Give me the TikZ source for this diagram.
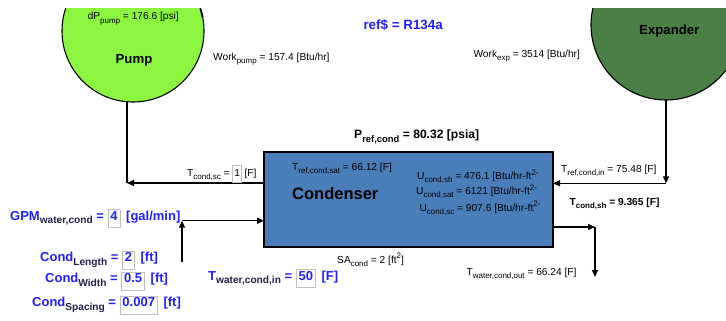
\documentclass[tikz,border=0pt]{standalone}
\usepackage{fontspec}
\setmainfont{Liberation Sans}
\usetikzlibrary{arrows.meta}
\definecolor{pumpgreen}{HTML}{8CF53F}
\definecolor{expgreen}{HTML}{4A7F46}
\definecolor{condblue}{HTML}{4A7EBB}
\definecolor{eesblue}{HTML}{1F1FFF}
\definecolor{subdark}{HTML}{20204A}
% sub- and superscripts in the style of the solver's diagram window
\newcommand\dn[1]{\raisebox{-0.3em}{\scalebox{0.78}{#1}}}
\newcommand\up[1]{\raisebox{0.42em}{\scalebox{0.78}{#1}}}
\newcommand\insub[1]{\dn{\textcolor{subdark}{#1}}}
% boxed input values
\newcommand\valbox[1]{{\setlength\fboxsep{1.2pt}\setlength\fboxrule{0.6pt}%
  \fcolorbox{black!25}{white}{\hspace{1pt}\rule[-6pt]{0pt}{14.8pt}#1\hspace{1pt}}}}
\newcommand\smallval[1]{{\setlength\fboxsep{1.2pt}\setlength\fboxrule{0.6pt}%
  \fcolorbox{black!25}{white}{\rule[-4.5pt]{0pt}{14pt}#1}}}
\begin{document}
\begin{tikzpicture}[x=1pt,y=-1pt,
  lbl/.style={inner sep=0pt, anchor=base west, font=\fontsize{10.2}{12}\selectfont},
  lblb/.style={inner sep=0pt, anchor=base west, font=\fontsize{10.2}{12}\selectfont\bfseries},
  inp/.style={inner sep=0pt, anchor=base west, text=eesblue, font=\fontsize{13}{15}\selectfont\bfseries},
  title/.style={inner sep=0pt, anchor=base, font=\fontsize{13.2}{15}\selectfont\bfseries},
  unit/.style={circle, draw, line width=1.1pt, inner sep=0pt, outer sep=0pt},
  wire/.style={line width=1.3pt},
  flow/.style={line width=1.3pt, -{Triangle[length=7pt,width=6pt]}}]
\useasboundingbox (0,0) rectangle (726,321);

% pump and expander, cut off by the top and right edges
\begin{scope}
  \clip (0,9) rectangle (726,321);
  \node[unit, fill=pumpgreen, minimum size=142pt] (pump) at (133,31) {};
  \node[unit, fill=expgreen, minimum size=150pt] (exp) at (666,25) {};
  \draw[line width=1.8pt] (200.5,9) arc[start angle=18, end angle=11, radius=71pt];
\end{scope}

% condenser
\node[draw, fill=condblue, line width=1.8pt, minimum width=289pt, minimum height=95pt,
      inner sep=0pt, outer sep=0pt, anchor=north west] (cond) at (264,152) {};

% junction points of the piping
\coordinate (sc) at (127,183);
\coordinate (sh) at (666,183.3);
\coordinate (wiA) at (182,262);
\coordinate (wiB) at (182,220.7);
\coordinate (woA) at (595,227);
\coordinate (woB) at (595,277);

% refrigerant loop
\draw[flow] (cond.west |- sc) -- (sc);
\draw[wire] (sc) -- (sc |- pump.south);
\draw[flow] (exp.south) -- (sh);
\draw[flow] (sh) -- (cond.east |- sh);

% water side
\draw[flow] (wiA) -- (wiB);
\draw[flow] (wiB) -- (cond.west |- wiB);
\draw[flow] (cond.east |- woA) -- (woA);
\draw[flow] (woA) -- (woB);

% unit names
\node[title] (pumpname) at (134,63.3) {Pump};
\node[title] (expname) at (669.3,34.3) {Expander};
\node[inner sep=0pt, font=\fontsize{16.5}{18}\selectfont\bfseries, anchor=base west] (condname) at (292,199) {Condenser};

% results
\node[lbl, anchor=base] (dp) at (133.3,20) {dP\dn{pump} = 176.6 [psi]};
\node[lbl] (wpump) at (213,60.7) {Work\dn{pump} = 157.4 [Btu/hr]};
\node[lbl] (wexp) at (473.3,57.3) {Work\dn{exp} = 3514 [Btu/hr]};
\node[inp, font=\fontsize{13.4}{15}\selectfont\bfseries] (ref) at (363.3,29.3) {ref\$ = R134a};
\node[lblb, font=\fontsize{12.1}{14}\selectfont\bfseries] (pref) at (354,139) {P\dn{ref,cond} = 80.32 [psia]};
\node[lbl] (tsc) at (187,176) {T\dn{cond,sc} = \smallval{1} [F]};
\node[lbl] (tsat) at (292,170) {T\dn{ref,cond,sat} = 66.12 [F]};
\node[lbl] (ush) at (417,179.5) {U\dn{cond,sh} = 476.1 [Btu/hr-ft\up{2-}};
\node[lbl] (usat) at (416,194.5) {U\dn{cond,sat} = 6121 [Btu/hr-ft\up{2-}};
\node[lbl] (usc) at (419.3,211) {U\dn{cond,sc} = 907.6 [Btu/hr-ft\up{2-}};
\node[lbl] (tin) at (561,172.5) {T\dn{ref,cond,in} = 75.48 [F]};
\node[lblb] (tsh) at (569.5,205) {T\dn{cond,sh} = 9.365 [F]};
\node[lbl] (sa) at (337,263) {SA\dn{cond} = 2 [ft\up{2}]};
\node[lbl] (twout) at (466.5,275) {T\dn{water,cond,out} = 66.24 [F]};

% inputs
\node[inp] (gpm) at (10,220) {GPM\insub{water,cond} = \valbox{4}\, [gal/min]};
\node[inp] (clen) at (40,261.7) {Cond\insub{Length} = \valbox{2}\, [ft]};
\node[inp] (cwid) at (45,282.7) {Cond\insub{Width} = \valbox{0.5}\, [ft]};
\node[inp] (cspc) at (32,306.5) {Cond\insub{Spacing} = \valbox{0.007}\, [ft]};
\node[inp] (twin) at (208,280) {T\insub{water,cond,in} = \valbox{50}\, [F]};
\end{tikzpicture}
\end{document}
